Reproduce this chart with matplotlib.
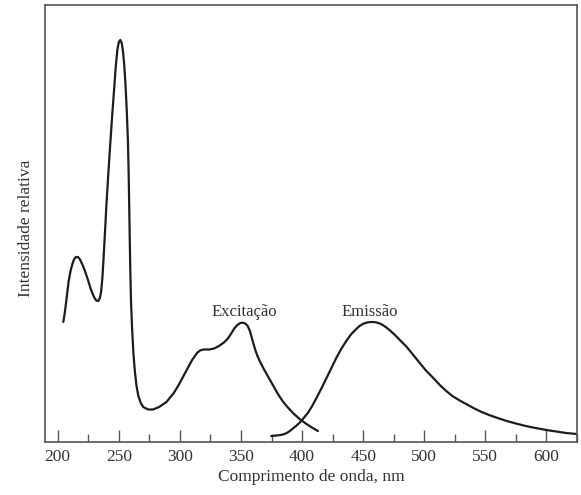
import numpy as np
import matplotlib.pyplot as plt
from matplotlib.ticker import MultipleLocator

# excitation spectrum (nm, relative intensity)
exc_nm = [204.6, 206, 207.5, 209, 210.5, 212, 213.5, 215, 216.5, 218, 220, 222, 224.8,
          227, 229.7, 231.5, 233.2, 234.5, 235.5, 236.5, 237.5, 238.7, 240, 241.5, 243,
          244.5, 246, 247.5, 248.8, 250, 251.2, 252.4, 253.5, 254.5, 255.5, 256.5, 257.5,
          258.2, 258.8, 259.4, 260, 261, 262, 263.2, 264.5, 266, 268, 270, 274, 278, 283,
          289, 295, 299, 302.5, 306, 310, 314, 316.5, 319, 324, 328, 332, 336, 339, 342,
          344.5, 347, 349.5, 351.5, 353.5, 355.5, 357.3, 359, 360.5, 362, 363.5, 365.5,
          368, 371, 374, 377, 380, 384, 388, 393, 398, 403, 408, 413]
exc_int = [120, 131, 146, 161, 171, 178, 183, 185, 185, 183, 178, 172, 162,
           153, 145, 141.5, 141, 144, 150, 163, 183, 210, 240, 270, 298,
           325, 350, 375, 392, 400, 402, 399, 390, 376, 357, 332, 300,
           260, 215, 172, 140, 110, 88, 70, 56, 46, 39, 35, 32.5, 32.5, 35,
           40, 49, 57, 65, 73, 82, 89, 91.5, 92.5, 92.5, 93.5, 96, 99.5, 103, 108.5,
           113.5, 117, 119, 119.3, 118.5, 116, 111, 103.5, 97, 91, 86, 80.5,
           74.5, 68, 61.5, 55, 48.5, 41, 35, 28.5, 23, 18.5, 14.5, 11]

# emission spectrum
emi_nm = [374.8, 378, 381, 384.5, 387.5, 390, 392.5, 395, 398.2, 401, 405, 408.5, 412,
          416, 420, 424, 428, 432, 436.7, 440, 443.5, 447, 450.5, 454, 457.1, 460, 463,
          466, 469, 472, 476, 480, 485.7, 491, 496, 501, 507, 512.7, 518, 523, 529, 535,
          541, 547, 553, 560, 567.5, 575, 583, 591, 600, 608, 616, 624.8]
emi_int = [6, 6.3, 6.8, 7.5, 9, 11, 13.5, 16, 19.5, 23.5, 29.5, 36.5, 44.5,
           54, 64, 74, 84, 93, 102, 107.5, 112, 116, 118.5, 119.7, 120, 119.8, 118.8,
           117, 114.5, 111.5, 107, 102, 95, 87, 79.5, 72, 64.5, 57, 51, 46, 41.5, 37.5,
           33.5, 30, 27, 24, 21, 18.5, 16, 14, 12, 10.5, 9, 8]

plt.rcParams["font.family"] = ["Liberation Serif", "DejaVu Serif"]
ink = "#1c1c1c"
txt = "#333333"

fig = plt.figure(figsize=(5.81, 4.95), dpi=100)
ax = fig.add_axes([45 / 581, 53 / 495, 532 / 581, 437 / 495])

for xs, ys in [(exc_nm, exc_int), (emi_nm, emi_int)]:
    ax.plot(xs, ys, color=ink, lw=1.6, solid_capstyle="round", solid_joinstyle="round")

ax.text(353, 130, "Excitação", ha="center", va="center", fontsize=12, color=txt)
ax.text(455.5, 130, "Emissão", ha="center", va="center", fontsize=12, color=txt)

ax.set_xlim(189.6, 625)
ax.set_ylim(0, 437)
ax.xaxis.set_major_locator(MultipleLocator(50))
ax.xaxis.set_minor_locator(MultipleLocator(25))
ax.set_yticks([])
ax.tick_params(axis="x", which="major", direction="in", length=8.5, width=1.0,
               color="#555555", labelsize=12.5, labelcolor=txt, pad=5)
ax.tick_params(axis="x", which="minor", direction="in", length=6, width=1.0,
               color="#555555")
for s in ax.spines.values():
    s.set_color("#555555")
    s.set_linewidth(1.2)

ax.set_xlabel("Comprimento de onda, nm", fontsize=12.5, color=txt, labelpad=3)
ax.set_ylabel("Intensidade relativa", fontsize=12.5, color=txt)
ax.yaxis.set_label_coords(-0.021, 0.49)

fig.savefig("out.png", dpi=100)
